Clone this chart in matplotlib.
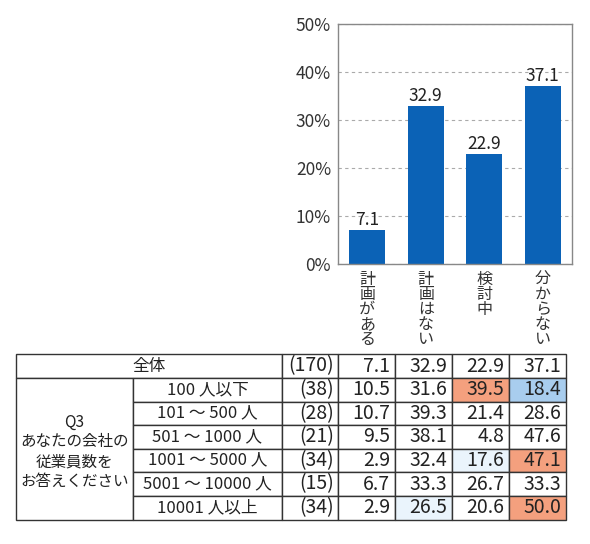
import matplotlib
matplotlib.use("Agg")
import matplotlib.pyplot as plt
from matplotlib.patches import Rectangle

plt.rcParams['font.family'] = ['Noto Sans CJK JP', 'DejaVu Sans']

# chart data
categories = ["計画がある", "計画はない", "検討中", "分からない"]
overall = [7.1, 32.9, 22.9, 37.1]

# table data
total_label = "全体"
group_title = "Q3\nあなたの会社の\n従業員数を\nお答えください"
row_labels = ["100 人以下", "101 ～ 500 人", "501 ～ 1000 人", "1001 ～ 5000 人",
              "5001 ～ 10000 人", "10001 人以上"]
n_counts = [170, 38, 28, 21, 34, 15, 34]
table_values = [
    [7.1, 32.9, 22.9, 37.1],
    [10.5, 31.6, 39.5, 18.4],
    [10.7, 39.3, 21.4, 28.6],
    [9.5, 38.1, 4.8, 47.6],
    [2.9, 32.4, 17.6, 47.1],
    [6.7, 33.3, 26.7, 33.3],
    [2.9, 26.5, 20.6, 50.0],
]
# (row, col) -> shading level
highlight = {(1, 2): 'high', (1, 3): 'low', (4, 2): 'lowish',
             (4, 3): 'high', (6, 1): 'lowish', (6, 3): 'high'}
shade = {'high': '#F4A07E', 'low': '#A8CDEE', 'lowish': '#EAF4FC'}

W, H = 590, 544
fig = plt.figure(figsize=(W / 100, H / 100), dpi=100)

# ---- bar chart
ax = fig.add_axes([338 / W, 1 - 264 / H, 234 / W, 240 / H])
x = list(range(len(categories)))
bars = ax.bar(x, overall, width=0.62, color='#0B62B6', zorder=2)
for b, v in zip(bars, overall):
    ax.annotate(f"{v:.1f}", (b.get_x() + b.get_width() / 2, v), xytext=(0, 1),
                textcoords='offset points', ha='center', va='bottom',
                fontsize=12.5, color='#222222')
ax.set_xlim(-0.5, 3.5)
ax.set_ylim(0, 50)
ax.set_yticks(range(0, 51, 10))
ax.set_yticklabels([f"{t}%" for t in range(0, 51, 10)], fontsize=12.5)
ax.yaxis.grid(True, linestyle=(0, (3, 3)), color='#aaaaaa', linewidth=0.8)
ax.set_axisbelow(True)
ax.set_xticks(x)
ax.set_xticklabels(["\n".join(c) for c in categories], linespacing=0.85, va='top',
                   fontsize=11.5)
ax.tick_params(length=0, colors='#333333', pad=5)
for s in ax.spines.values():
    s.set_color('#888888')
    s.set_linewidth(1)

# ---- table
tab = fig.add_axes([0, 0, 1, 1])
tab.set_xlim(0, W)
tab.set_ylim(H, 0)
tab.axis('off')

col_x = [16, 133, 282, 338, 395, 452, 509, 566]
row_y = [354, 378, 401.5, 425, 448.5, 472, 496, 519.5]
line = '#333333'
fs = 14
fs_jp = 12


def cell(x0, x1, y0, y1, fc='white'):
    tab.add_patch(Rectangle((x0, y0), x1 - x0, y1 - y0, facecolor=fc,
                            edgecolor=line, linewidth=1))


# header row
cell(col_x[0], col_x[2], row_y[0], row_y[1])
tab.text((col_x[0] + col_x[2]) / 2, (row_y[0] + row_y[1]) / 2, total_label,
         ha='center', va='center', fontsize=fs_jp, color='#222222')
# group cell
cell(col_x[0], col_x[1], row_y[1], row_y[-1])
tab.text((col_x[0] + col_x[1]) / 2, (row_y[1] + row_y[-1]) / 2 + 3, group_title,
         ha='center', va='center', fontsize=11.2, color='#222222', linespacing=1.2,
         multialignment='center')
for i, lab in enumerate(row_labels):
    r = i + 1
    cell(col_x[1], col_x[2], row_y[r], row_y[r + 1])
    tab.text((col_x[1] + col_x[2]) / 2, (row_y[r] + row_y[r + 1]) / 2, lab,
             ha='center', va='center', fontsize=fs_jp, color='#222222')

for r in range(len(n_counts)):
    yc = (row_y[r] + row_y[r + 1]) / 2
    cell(col_x[2], col_x[3], row_y[r], row_y[r + 1])
    tab.text(col_x[3] - 4, yc, f"({n_counts[r]})", ha='right', va='center',
             fontsize=fs, color='#222222')
    for c, v in enumerate(table_values[r]):
        fc = shade[highlight[(r, c)]] if (r, c) in highlight else 'white'
        cell(col_x[3 + c], col_x[4 + c], row_y[r], row_y[r + 1], fc)
        tab.text(col_x[4 + c] - 5, yc, f"{v:.1f}", ha='right', va='center',
                 fontsize=fs, color='#222222')

fig.savefig('out.png', dpi=100)
